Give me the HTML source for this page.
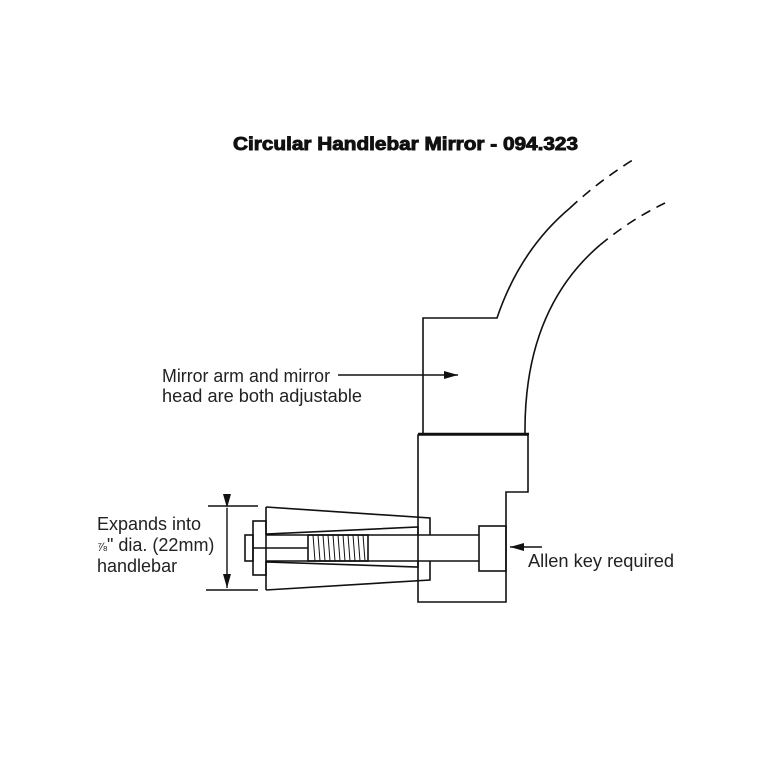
<!DOCTYPE html>
<html><head><style>html,body{margin:0;padding:0;background:#fff}</style></head><body>
<svg width="768" height="768" viewBox="0 0 768 768" xmlns="http://www.w3.org/2000/svg" font-family="Liberation Sans, sans-serif">
<defs><marker id="ah" markerWidth="14" markerHeight="8" refX="14" refY="4" orient="auto" markerUnits="userSpaceOnUse"><path d="M0,0 L14,4 L0,8 Z" fill="#111"/></marker></defs>
<rect width="768" height="768" fill="#fff"/>
<text x="233" y="150" font-size="18" font-weight="bold" textLength="345" lengthAdjust="spacingAndGlyphs" fill="#111" stroke="#111" stroke-width="0.9">Circular Handlebar Mirror - 094.323</text>
<g fill="none" stroke="#111" stroke-width="1.6">
<path d="M423,433 L423,318 L497,318 Q520,250 570,208"/>
<path d="M570,208 Q600,180 636,158" stroke-dasharray="10,7"/>
<path d="M525,433 Q524,310 600,245"/>
<path d="M600,245 Q630,220 665,203" stroke-dasharray="10,7"/>
<line x1="418" y1="434" x2="529" y2="434" stroke-width="2.4"/>
<path d="M418,435 L528,435 L528,492 L506,492 L506,602 L418,602 Z"/>
<path d="M266,507 L430,518 L430,535 M266,507 L266,534 L418,527 L418,535"/>
<path d="M266,590 L430,580 L430,561 M266,590 L266,562 L418,567 L418,561"/>
<rect x="253" y="521" width="13" height="54"/>
<rect x="245" y="535" width="8" height="26"/>
<path d="M266,535 L479,535 M266,561 L479,561 M253,548 L308,548"/>
<rect x="308" y="535" width="60" height="26"/>
<path d="M313,535 L315,561 M318,535 L320,561 M323,535 L325,561 M328,535 L330,561 M333,535 L335,561 M338,535 L340,561 M343,535 L345,561 M348,535 L350,561 M353,535 L355,561 M358,535 L360,561 M363,535 L365,561" stroke-width="1"/>
<rect x="479" y="526" width="27" height="45"/>
<line x1="208" y1="506" x2="258" y2="506"/>
<line x1="206" y1="590" x2="258" y2="590"/>
<line x1="227" y1="508" x2="227" y2="588" marker-start="url(#ah)" marker-end="url(#ah)" stroke-width="1.4"/>
<line x1="338" y1="375" x2="458" y2="375" marker-end="url(#ah)" stroke-width="1.4"/>
<line x1="542" y1="547" x2="510" y2="547" marker-end="url(#ah)" stroke-width="1.4"/>
</g>
<g font-size="18" fill="#222">
<text x="162" y="382" textLength="168" lengthAdjust="spacingAndGlyphs">Mirror arm and mirror</text>
<text x="162" y="402" textLength="200" lengthAdjust="spacingAndGlyphs">head are both adjustable</text>
<text x="97" y="530">Expands into</text>
<text x="97" y="551"><tspan font-size="12">⅞</tspan>" dia. (22mm)</text>
<text x="97" y="572">handlebar</text>
<text x="528" y="567" textLength="146" lengthAdjust="spacingAndGlyphs">Allen key required</text>
</g>
</svg>
</body></html>
